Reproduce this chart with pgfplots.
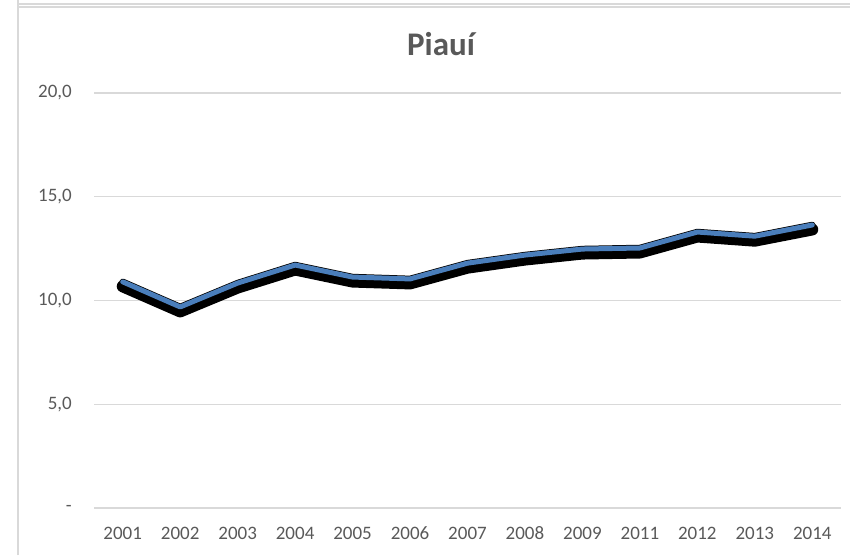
\documentclass[border=0pt]{standalone}
\usepackage{pgfplots}
\pgfplotsset{compat=1.18}
\usepackage{fontspec}
\setmainfont{Carlito}
\definecolor{txtgray}{HTML}{595959}
\definecolor{gridgray}{HTML}{D9D9D9}
\definecolor{lineblue}{HTML}{4A7EBB}

\pgfplotstableread{
x val
0 10.90
1 9.69
2 10.84
3 11.71
4 11.13
5 11.04
6 11.80
7 12.19
8 12.48
9 12.53
10 13.30
11 13.10
12 13.64
}\piaui

\begin{document}
\begin{tikzpicture}[x=1pt,y=1pt]
\useasboundingbox (0,0) rectangle (850,555);
% chart frame (bottom of previous box + this box)
\draw[gridgray, line width=1.5pt] (18,555) -- (18,548) -- (850,548);
\draw[gridgray, line width=1.5pt] (18,0) -- (18,551) -- (850,551);
\node[anchor=base, text=txtgray, font=\fontsize{33}{33}\selectfont\bfseries] at (441,499) {Piauí};
\begin{axis}[
    at={(94pt,47pt)}, anchor=south west,
    scale only axis,
    width=747pt, height=415pt,
    xmin=-0.5, xmax=12.5,
    ymin=0, ymax=20,
    xtick={0,...,12},
    xticklabels={2001,2002,2003,2004,2005,2006,2007,2008,2009,2011,2012,2013,2014},
    ytick={0,5,10,15,20},
    yticklabels={-\hspace{9pt},{5,0},{10,0},{15,0},{20,0}},
    axis line style={draw=none},
    major tick length=0pt,
    ymajorgrids,
    grid style={gridgray, line width=1.2pt},
    tick label style={text=txtgray, font=\fontsize{19}{19}\selectfont},
    xticklabel style={anchor=base, inner sep=0pt, yshift=-31pt},
    yticklabel style={anchor=east, inner sep=0pt, xshift=-22pt},
    /pgf/number format/assume math mode=true,
    clip=false,
]
% shadow
\addplot[black, line width=12pt, line cap=round, line join=round, yshift=-4.5pt] table[x=x, y=val] {\piaui};
% outline
\addplot[black, line width=6.5pt, line cap=round, line join=round] table[x=x, y=val] {\piaui};
% series
\addplot[lineblue, line width=5pt, line cap=round, line join=round] table[x=x, y=val] {\piaui};
\end{axis}
\end{tikzpicture}
\end{document}
